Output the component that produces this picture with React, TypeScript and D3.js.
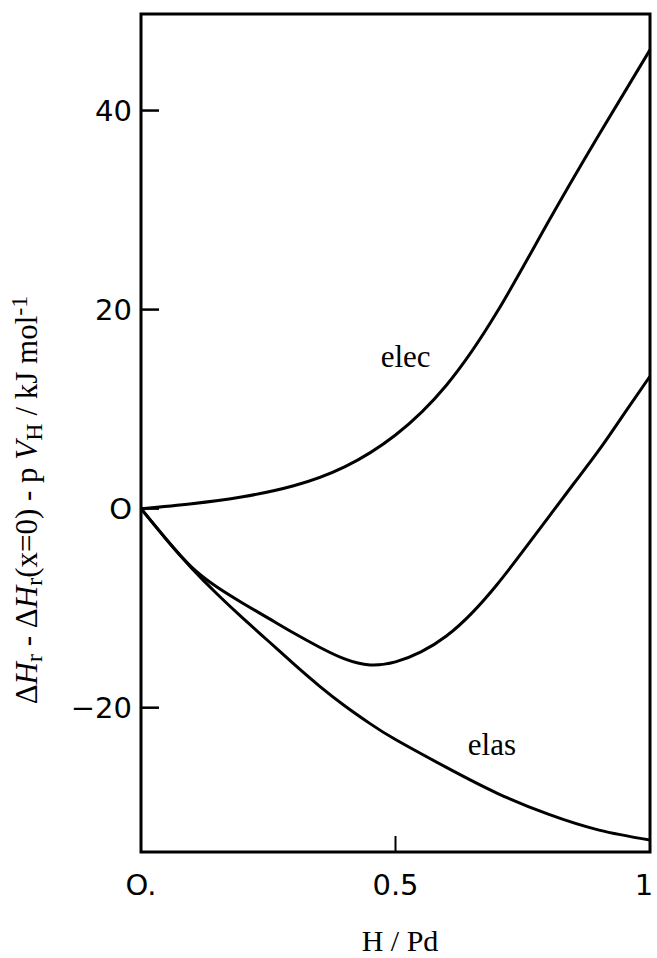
import { useEffect, useRef } from "react";
import * as d3 from "d3";

// values (H/Pd vs kJ/mol)
const elecX = [0, 0.1, 0.2, 0.3, 0.4, 0.5, 0.6, 0.7, 0.8, 0.9, 1.0];
const elecY = [0, 0.5, 1.2, 2.3, 4.2, 7.4, 12.4, 19.8, 28.8, 37.6, 46.1];
const totalX = [0, 0.05, 0.1, 0.15, 0.2, 0.25, 0.3, 0.35, 0.4, 0.45, 0.5, 0.55, 0.6, 0.65, 0.7, 0.75, 0.8, 0.85, 0.9, 0.95, 1.0];
const totalY = [0, -3.1, -5.9, -7.9, -9.5, -11.0, -12.5, -13.9, -15.1, -15.7, -15.4, -14.4, -12.8, -10.5, -7.6, -4.3, -0.9, 2.5, 5.9, 9.6, 13.3];
const elasX = [0, 0.05, 0.1, 0.15, 0.2, 0.25, 0.3, 0.35, 0.4, 0.45, 0.5, 0.6, 0.7, 0.8, 0.9, 1.0];
const elasY = [0, -3.1, -6.0, -8.6, -11.0, -13.3, -15.6, -17.8, -19.8, -21.6, -23.2, -26.0, -28.6, -30.7, -32.3, -33.3];

const yTicks = [40, 20, 0, -20];
const yTickLabels = ["40", "20", "O", "\u221220"];
const xTicks = [0, 0.5, 1];
const xTickLabels = ["O.", "0.5", "1"];
const curveLabels = [
  { text: "elec", x: 0.471, y: 14.2 },
  { text: "elas", x: 0.642, y: -24.75 },
];

export default function App() {
  const ref = useRef<SVGSVGElement>(null);

  useEffect(() => {
    const svg = d3.select(ref.current);
    svg.selectAll("*").remove();

    const left = 141, right = 650, top = 14, bottom = 852;
    const x = d3.scaleLinear().domain([0, 1]).range([left, right]);
    const y = d3.scaleLinear().domain([-34.5, 49.7]).range([bottom, top]);

    const g = svg.append("g");

    // frame
    g.append("rect")
      .attr("x", left).attr("y", top)
      .attr("width", right - left).attr("height", bottom - top)
      .attr("fill", "none").attr("stroke", "#000").attr("stroke-width", 3);

    // y ticks (inward)
    g.selectAll(".yt").data(yTicks).join("line")
      .attr("x1", left).attr("x2", left + 18)
      .attr("y1", (d) => y(d)).attr("y2", (d) => y(d))
      .attr("stroke", "#000").attr("stroke-width", 2.5);
    g.selectAll(".yl").data(yTicks).join("text")
      .attr("x", left - 9).attr("y", (d) => y(d))
      .attr("dy", "0.36em")
      .attr("text-anchor", "end")
      .attr("font-family", "DejaVu Sans")
      .attr("font-size", 29)
      .text((_, i) => yTickLabels[i]);

    // x ticks
    g.selectAll(".xt").data([0.5]).join("line")
      .attr("x1", (d) => x(d)).attr("x2", (d) => x(d))
      .attr("y1", bottom).attr("y2", bottom - 16)
      .attr("stroke", "#000").attr("stroke-width", 2);
    g.selectAll(".xl").data(xTicks).join("text")
      .attr("x", (d) => Math.min(x(d), right - 6)).attr("y", bottom + 43)
      .attr("text-anchor", "middle")
      .attr("font-family", "DejaVu Sans")
      .attr("font-size", 29)
      .text((_, i) => xTickLabels[i]);

    const line = d3.line<[number, number]>()
      .x((d) => x(d[0])).y((d) => y(d[1]))
      .curve(d3.curveNatural);

    const series: [number, number][][] = [
      elecX.map((v, i) => [v, elecY[i]]),
      totalX.map((v, i) => [v, totalY[i]]),
      elasX.map((v, i) => [v, elasY[i]]),
    ];
    g.selectAll(".curve").data(series).join("path")
      .attr("d", (d) => line(d))
      .attr("fill", "none").attr("stroke", "#000").attr("stroke-width", 3);

    g.selectAll(".cl").data(curveLabels).join("text")
      .attr("x", (d) => x(d.x)).attr("y", (d) => y(d.y))
      .attr("font-family", "Liberation Serif")
      .attr("font-size", 31)
      .text((d) => d.text);

    // x axis title
    g.append("text")
      .attr("x", 400).attr("y", 951)
      .attr("text-anchor", "middle")
      .attr("font-family", "Liberation Serif")
      .attr("font-size", 30)
      .text("H / Pd");

    // y axis title
    const yt = g.append("text")
      .attr("transform", `translate(37,${500}) rotate(-90)`)
      .attr("text-anchor", "middle")
      .attr("font-family", "Liberation Serif")
      .attr("font-size", 31);
    const parts: [string, string, number][] = [
      ["\u0394", "normal", 0],
      ["H", "italic", 0],
      ["r", "normal", 5],
      [" - \u0394", "normal", -5],
      ["H", "italic", 0],
      ["r", "normal", 5],
      ["(x=0) - p ", "normal", -5],
      ["V", "italic", 0],
      ["H", "normal", 5],
      [" / kJ mol", "normal", -5],
      ["-1", "normal", -10],
    ];
    parts.forEach(([t, style, dy], i) => {
      const span = yt.append("tspan").attr("font-style", style).attr("dy", dy).text(t);
      if (i === 2 || i === 5 || i === 8 || i === 10) span.attr("font-size", 24);
    });
  }, []);

  return (
    <svg
      ref={ref}
      width={657}
      height={958}
      style={{ position: "absolute", left: 0, top: 0, background: "#fff" }}
    />
  );
}
